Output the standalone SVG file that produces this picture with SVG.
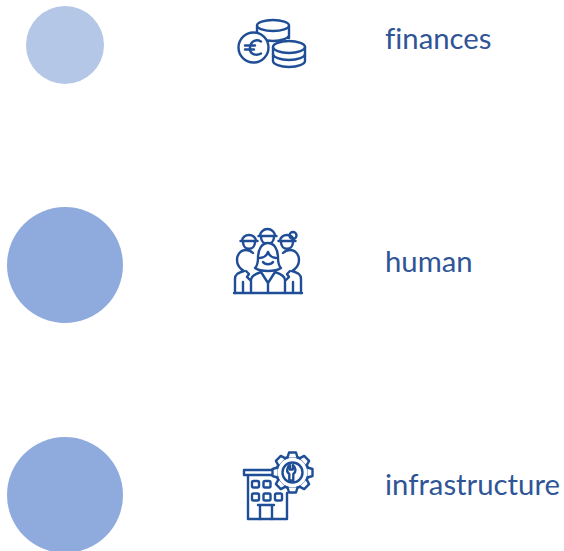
<svg xmlns="http://www.w3.org/2000/svg" width="564" height="551" viewBox="0 0 564 551">
<style>
.l{font-family:"Lato","Liberation Sans",sans-serif;font-size:29.300px;fill:#2f5597;font-variant-ligatures:none}
.i{fill:none;stroke:#1f4e96;stroke-width:2.400;stroke-linecap:round;stroke-linejoin:round}
.w{fill:#fff;stroke:#1f4e96;stroke-width:2.400;stroke-linejoin:round;stroke-linecap:round}
</style>
<defs>
<path id="tooth" class="w" d="M-5-15 L-3.500-20 H3.500 L5-15"/>
</defs>
<rect width="564" height="551" fill="#fff"/>
<g id="finances">
<circle cx="65" cy="45" r="39" fill="#b4c7e7"/>
<g id="icon-coins">
<path class="i" d="M257 26v18M289 26v12M257 35c0 3 7 6 16 6s16-3 16-6"/>
<ellipse class="i" cx="273" cy="25.500" rx="16" ry="5.500"/>
<path class="w" d="M273 47c0-3 7-6 16-6s16 3 16 6v14c0 3-7 6-16 6s-16-3-16-6z"/>
<path class="i" d="M273 47c0 3 7 6 16 6s16-3 16-6M273 54c0 3 7 6 16 6s16-3 16-6"/>
<circle class="w" cx="253.500" cy="47.500" r="15"/>
<path class="i" d="M261 41.500c-4.500-2.500-10-1-11 6s6.500 8.500 11 6M245 45.500h10M245 49.500h9"/>
</g>
<text class="l" x="385" y="48.500">finances</text>
</g>
<g id="human">
<circle cx="65" cy="265" r="58" fill="#8faadc"/>
<g id="icon-people">
<path class="i" d="M260 236a7.500 7 0 0 1 15 0M258.500 236h18M261 237c0 9 13 9 13 0"/>
<path class="i" d="M242 241a7 6 0 0 1 14 0M240.500 241h17M243 242c0 9 12 9 12 0"/>
<path class="i" d="M280 241a7 6 0 0 1 14 0M278.500 241h17M281 242c0 9 12 9 12 0"/>
<circle class="i" cx="293" cy="235.500" r="3.500"/>
<path class="i" d="M235 293v-14c0-5 3-6 9-8-5-3-7-7-7-11 0-6 4-10 9-10 3 0 5 1 7 3M246 271l3 3-2 3 3 3"/>
<path class="i" d="M301 293v-14c0-5-3-6-9-8 5-3 7-7 7-11 0-6-4-10-9-10-3 0-5 1-7 3M290 271l-3 3 2 3-3 3"/>
<path class="w" d="M258 258c0-9 4-15 10-15s10 6 10 15c0 5 1 8 3 10-3 2-6 3-13 3s-10-1-13-3c2-2 3-5 3-10z"/>
<path class="i" d="M260 258c4 0 7-3 8-6 1 3 4 6 8 6M263 262c2 3 8 3 10 0"/>
<path class="i" d="M251 293v-13c0-4 4-6 10-8l7 11 7-11c6 2 10 4 10 8v13M268 283v10M243 282v11M293 282v11M234 293h68"/>
</g>
<text class="l" x="385" y="271.500">human</text>
</g>
<g id="infrastructure">
<circle cx="65" cy="495" r="58" fill="#8faadc"/>
<g id="icon-building">
<path class="i" d="M273 470h-29v5h29M248 475v44h39v-26"/>
<rect class="i" x="252" y="481" width="7" height="6.500" rx="1.500"/>
<rect class="i" x="263.500" y="481" width="7" height="6.500" rx="1.500"/>
<rect class="i" x="252" y="493.500" width="7" height="7" rx="1.500"/>
<rect class="i" x="263.500" y="493.500" width="7" height="7" rx="1.500"/>
<rect class="i" x="275" y="493.500" width="7" height="7" rx="1.500"/>
<path class="i" d="M260 519v-14h12v14M258 505h16"/>
<g transform="translate(292.500 472.500)">
<circle r="16" fill="#fff" stroke="#1f4e96" stroke-width="2.400"/>
<use href="#tooth"/>
<use href="#tooth" transform="rotate(45)"/>
<use href="#tooth" transform="rotate(90)"/>
<use href="#tooth" transform="rotate(135)"/>
<use href="#tooth" transform="rotate(180)"/>
<use href="#tooth" transform="rotate(225)"/>
<use href="#tooth" transform="rotate(270)"/>
<use href="#tooth" transform="rotate(315)"/>
<circle class="i" r="10"/>
<path class="i" d="M-3.500-7.500c-3.500 2.500-3.500 7-.5 9v6.500h4v-6.500c3-2 3-6.500-.5-9v4.500h-3z" transform="translate(.8 0)"/>
</g>
</g>
<text class="l" x="385" y="494.500">infrastructure</text>
</g>
</svg>
